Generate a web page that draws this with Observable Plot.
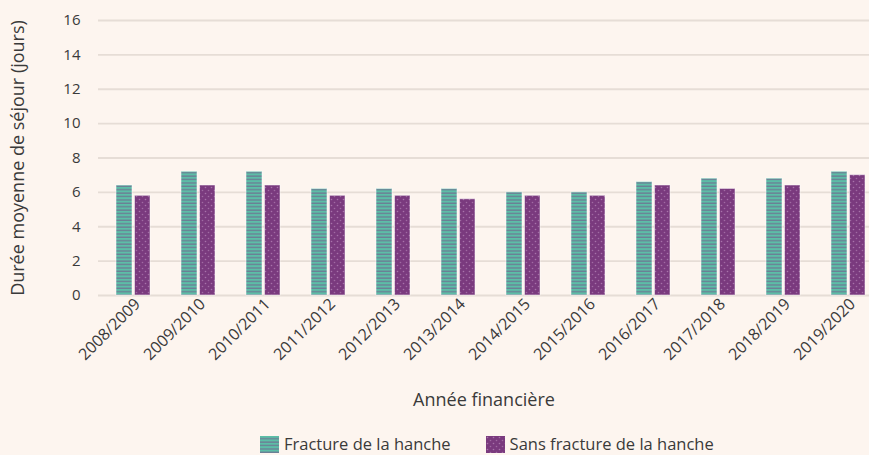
<!DOCTYPE html>
<html>
<head>
<meta charset="utf-8">
<script src="https://cdn.jsdelivr.net/npm/d3@7"></script>
<script src="https://cdn.jsdelivr.net/npm/@observablehq/plot@0.6"></script>
<style>
  html, body { margin: 0; padding: 0; background: #fdf5ef; }
  body { width: 869px; height: 455px; overflow: hidden; position: relative; font-family: "Open Sans", Lato, sans-serif; color: #3a3a3a; }
  #legend { position: absolute; left: 260px; top: 435px; height: 18px; line-height: 18px; display: flex; align-items: center; font-size: 16.5px; }
  .item { display: flex; align-items: center; margin-right: 35px; }
  .item svg { margin-right: 5px; }
</style>
</head>
<body>
<div id="chart"></div>
<div id="legend"></div>
<script>
const years = ["2008/2009","2009/2010","2010/2011","2011/2012","2012/2013","2013/2014","2014/2015","2015/2016","2016/2017","2017/2018","2018/2019","2019/2020"];
const hip   = [6.4, 7.2, 7.2, 6.2, 6.2, 6.2, 6.0, 6.0, 6.6, 6.8, 6.8, 7.2];
const noHip = [5.8, 6.4, 6.4, 5.8, 5.8, 5.6, 5.8, 5.8, 6.4, 6.2, 6.4, 7.0];
const yTicks = [0, 2, 4, 6, 8, 10, 12, 14, 16];
const seriesNames = ["Fracture de la hanche", "Sans fracture de la hanche"];
const yTitle = "Durée moyenne de séjour (jours)";
const xTitle = "Année financière";

const data = years.map((y, i) => ({year: y, hip: hip[i], noHip: noHip[i]}));

const tealPat = (id) => `<pattern id="${id}" patternUnits="userSpaceOnUse" width="6" height="3.4">
  <rect width="6" height="3.4" fill="#5cbea7"/>
  <rect y="2.1" width="6" height="1.2" fill="#6e7693"/>
</pattern>`;
const purplePat = (id) => `<pattern id="${id}" patternUnits="userSpaceOnUse" width="6" height="6">
  <rect width="6" height="6" fill="#7a3a7e"/>
  <circle cx="1.5" cy="1.5" r="0.8" fill="#a872aa"/>
  <circle cx="4.5" cy="4.5" r="0.8" fill="#a06aa3"/>
</pattern>`;

const chart = Plot.plot({
  width: 869,
  height: 434,
  marginTop: 20,
  marginLeft: 98,
  marginRight: 0,
  marginBottom: 139,
  style: {background: "#fdf5ef", fontFamily: "'Open Sans', Lato, sans-serif", fontSize: "15px", color: "#3a3a3a"},
  x: {domain: years, range: [116, 865.7], paddingInner: 0.477, paddingOuter: 0},
  y: {domain: [0, 16]},
  marks: [
    Plot.ruleY(yTicks, {stroke: "#e6ddd6", strokeWidth: 1.8}),
    Plot.axisY({ticks: yTicks, tickSize: 0, tickPadding: 18, label: null, fontSize: 15}),
    Plot.axisX({tickSize: 0, tickRotate: -45, tickPadding: 6, dx: 4, fontSize: 16, label: null}),
    Plot.text([yTitle], {frameAnchor: "left", rotate: -90, dx: -80, textAnchor: "middle", lineAnchor: "middle", fontSize: 18, fill: "#3a3a3a"}),
    Plot.text([xTitle], {frameAnchor: "bottom", dy: 105, textAnchor: "middle", lineAnchor: "middle", fontSize: 18, fill: "#3a3a3a"}),
    Plot.barY(data, {x: "year", y: "hip", insetRight: 18, fill: "url(#pTeal)", stroke: "#ffffff", strokeOpacity: 0.5, strokeWidth: 1}),
    Plot.barY(data, {x: "year", y: "noHip", insetLeft: 18.5, fill: "url(#pPurple)", stroke: "#ffffff", strokeOpacity: 0.5, strokeWidth: 1})
  ]
});
d3.select(chart).insert("defs", ":first-child").html(tealPat("pTeal") + purplePat("pPurple"));
document.getElementById("chart").appendChild(chart);

const legend = document.getElementById("legend");
seriesNames.forEach((name, i) => {
  const item = document.createElement("div");
  item.className = "item";
  const pat = i === 0 ? tealPat("lg0") : purplePat("lg1");
  item.innerHTML = `<svg width="19" height="17"><defs>${pat}</defs><rect width="19" height="17" fill="url(#lg${i})"/></svg><span>${name}</span>`;
  legend.appendChild(item);
});
</script>
</body>
</html>
